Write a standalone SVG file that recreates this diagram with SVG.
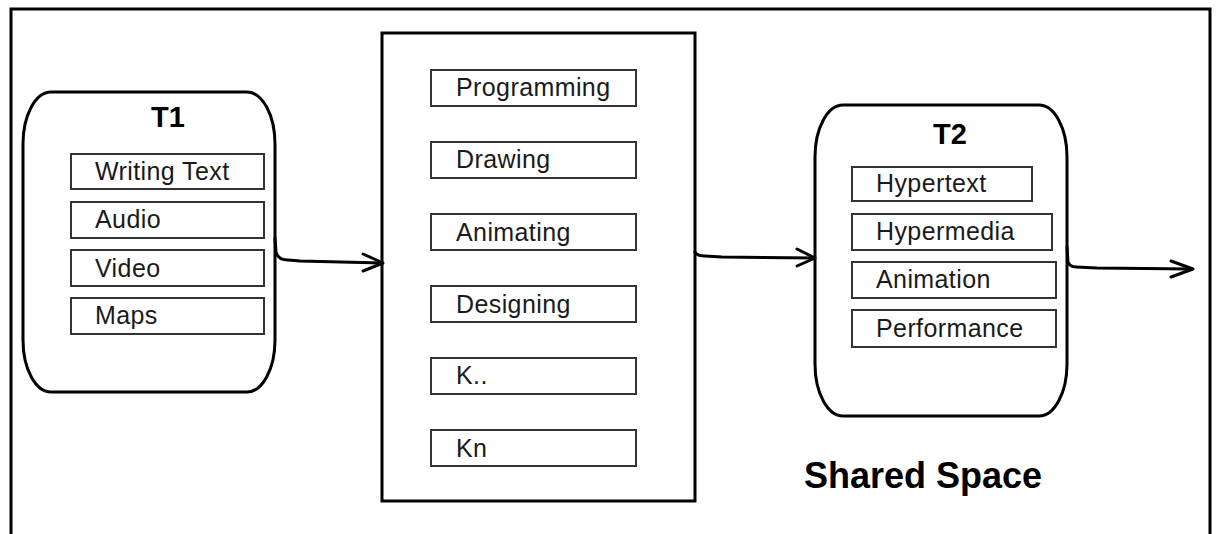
<svg xmlns="http://www.w3.org/2000/svg" width="1216" height="534" viewBox="0 0 1216 534">
<style>
.frame{fill:none;stroke:#000;stroke-width:3}
.term{fill:none;stroke:#000;stroke-width:3}
.item{fill:#fff;stroke:#333;stroke-width:2}
.lbl{font-family:"Liberation Sans",Arial,sans-serif;font-size:25px;fill:#1a1a1a;letter-spacing:0.4px}
.title{font-family:"Liberation Sans",Arial,sans-serif;font-size:29px;font-weight:bold;fill:#000;text-anchor:middle}
.conn{fill:none;stroke:#000;stroke-width:3;stroke-linejoin:round;stroke-linecap:round}
</style>
<rect width="1216" height="534" fill="#fff"/>
<rect class="frame" x="11" y="9" width="1199" height="540"/>

<g id="T1">
<path class="term" d="M51,92 H247 A28,52 0 0 1 275,144 V340 A28,52 0 0 1 247,392 H51 A28,52 0 0 1 23,340 V144 A28,52 0 0 1 51,92 Z"/>
<text class="title" x="168" y="127">T1</text>
<rect class="item" x="71" y="154" width="193" height="35"/>
<text class="lbl" x="95" y="180">Writing Text</text>
<rect class="item" x="71" y="202" width="193" height="36"/>
<text class="lbl" x="95" y="228">Audio</text>
<rect class="item" x="71" y="250" width="193" height="36"/>
<text class="lbl" x="95" y="277">Video</text>
<rect class="item" x="71" y="298" width="193" height="36"/>
<text class="lbl" x="95" y="324">Maps</text>
</g>

<g id="Tasks">
<rect class="frame" x="382" y="33" width="313" height="468"/>
<rect class="item" x="431" y="70" width="205" height="36"/>
<text class="lbl" x="456" y="96">Programming</text>
<rect class="item" x="431" y="142" width="205" height="36"/>
<text class="lbl" x="456" y="168">Drawing</text>
<rect class="item" x="431" y="214" width="205" height="36"/>
<text class="lbl" x="456" y="241">Animating</text>
<rect class="item" x="431" y="286" width="205" height="36"/>
<text class="lbl" x="456" y="313">Designing</text>
<rect class="item" x="431" y="358" width="205" height="36"/>
<text class="lbl" x="456" y="384">K..</text>
<rect class="item" x="431" y="430" width="205" height="36"/>
<text class="lbl" x="456" y="457">Kn</text>
</g>

<g id="T2">
<path class="term" d="M843,105 H1039 A28,52 0 0 1 1067,157 V364 A28,52 0 0 1 1039,416 H843 A28,52 0 0 1 815,364 V157 A28,52 0 0 1 843,105 Z"/>
<text class="title" x="950" y="144">T2</text>
<rect class="item" x="852" y="167" width="180" height="34"/>
<text class="lbl" x="876" y="192">Hypertext</text>
<rect class="item" x="852" y="214" width="200" height="36"/>
<text class="lbl" x="876" y="240">Hypermedia</text>
<rect class="item" x="852" y="262" width="204" height="36"/>
<text class="lbl" x="876" y="288">Animation</text>
<rect class="item" x="852" y="310" width="204" height="37"/>
<text class="lbl" x="876" y="337">Performance</text>
</g>

<g id="label-shared-space">
<text x="804" y="488" style="font-family:'Liberation Sans',Arial,sans-serif;font-size:36px;font-weight:bold;fill:#000">Shared Space</text>
</g>

<g id="connectors">
<path class="conn" d="M275,238 L276,252 Q278,260 288,260 L300,261 L382,263"/>
<polyline class="conn" points="363,254 383,263 363,271"/>
<path class="conn" d="M695,252 Q697,256 705,256 L722,257 L814,258"/>
<polyline class="conn" points="797,249 815,258 797,266"/>
<path class="conn" d="M1067,247 L1068,262 Q1070,267 1076,267 L1097,268 L1192,269"/>
<polyline class="conn" points="1171,261 1193,269 1171,277"/>
</g>
</svg>
